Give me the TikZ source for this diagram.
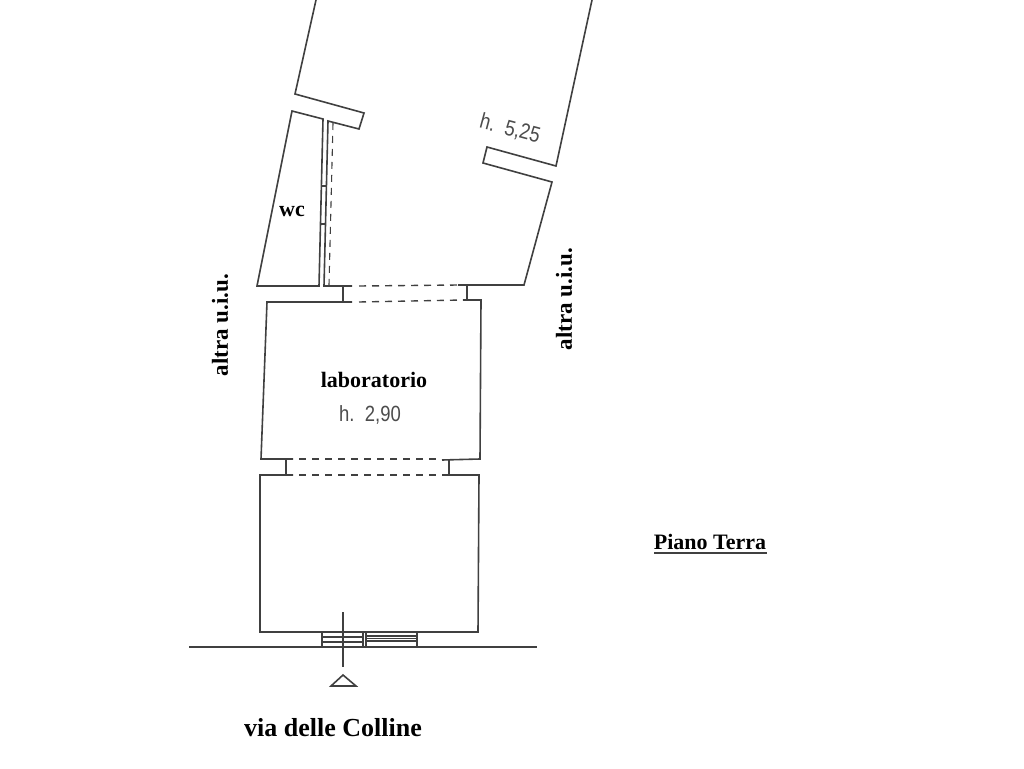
\documentclass[tikz,border=0pt]{standalone}
\usepackage{fontspec}
\setmainfont{Liberation Serif}
\newfontfamily\cadfont[FakeStretch=0.84]{Liberation Sans}
\usetikzlibrary{positioning}

\definecolor{wallgray}{gray}{0.25}

\begin{document}
\begin{tikzpicture}[
        x=1pt, y=-1pt,
        every path/.style={line width=1.6pt, color=wallgray, line join=miter},
        opening/.style={line width=1.4pt, dash pattern=on 7pt off 6pt},
        thinwall/.style={line width=1.1pt},
        roomlabel/.style={font=\bfseries\fontsize{22}{22}\selectfont, text=black, inner sep=0pt},
        sidelabel/.style={font=\bfseries\fontsize{23}{23}\selectfont, text=black, inner sep=0pt, rotate=90},
        heightlabel/.style={font=\cadfont\fontsize{22}{22}\selectfont, text=black!70, inner sep=0pt}
    ]
  \useasboundingbox (0,0) rectangle (1024,768);

  % Walls
  \draw (316,0) -- (295,94) -- (364,113) -- (359,129) -- (328,121) -- (324,286) -- (352,286);
  \draw (592,0) -- (556,166) -- (487,147) -- (483,163) -- (552,182) -- (524,285) -- (458,285);
  \draw (257,286) -- (292,111) -- (323,119) -- (319,286) -- cycle;
  \draw[opening, thinwall] (333,123) -- (329,285);
  \draw[thinwall] (321,186) -- (327,186);
  \draw[thinwall] (321,224) -- (326,224);

  % Laboratorio
  \draw (352,302) -- (267,302) -- (261,459) -- (293,459);
  \draw (463,300) -- (481,300) -- (480,459) -- (442,460);
  \draw (293,475) -- (260,475) -- (260,632) -- (478,632) -- (479,475) -- (442,475);

  % Doors
  \draw (343,286) -- (343,302);
  \draw (467,285) -- (467,300);
  \draw (286,459) -- (286,475);
  \draw (449,460) -- (449,475);
  \draw[opening] (359,286) -- (458,285);
  \draw[opening] (359,302) -- (463,300);
  \draw[opening] (299,459) -- (442,459);
  \draw[opening] (299,475) -- (442,475);

  % Street front
  \draw (189,647) -- (537,647);
  \draw (322,632) -- (322,647);
  \draw (363,632) -- (363,647);
  \draw (366,632) -- (366,647);
  \draw (417,632) -- (417,647);
  \draw[thinwall] (322,637) -- (363,637);
  \draw[thinwall] (322,642) -- (363,642);
  \draw[thinwall] (366,636) -- (417,636);
  \draw[thinwall] (366,638.5) -- (417,638.5);
  \draw[thinwall] (366,641) -- (417,641);
  \draw (343,612) -- (343,667);
  \draw (343,675) -- (356,686) -- (331,686) -- cycle;

  % Labels
  \node[roomlabel] (wc) at (292,211) {wc};
  \node[roomlabel] (laboratorio) at (374,380) {laboratorio};
  \node[heightlabel] (hlab) at (370,415) {h.\ \ 2,90};
  \node[heightlabel, rotate=-15] (hback) at (510,129) {h.\ \ 5,25};
  \node[sidelabel] (altrasx) at (220,325) {altra u.i.u.};
  \node[sidelabel] (altradx) at (564,299) {altra u.i.u.};
  \node[roomlabel] (piano) at (710,542) {Piano Terra};
  \draw (654,553) -- (767,553);
  \node[font=\bfseries\fontsize{26}{26}\selectfont, text=black, inner sep=0pt] (via) at (333,728) {via delle Colline};
\end{tikzpicture}
\end{document}
